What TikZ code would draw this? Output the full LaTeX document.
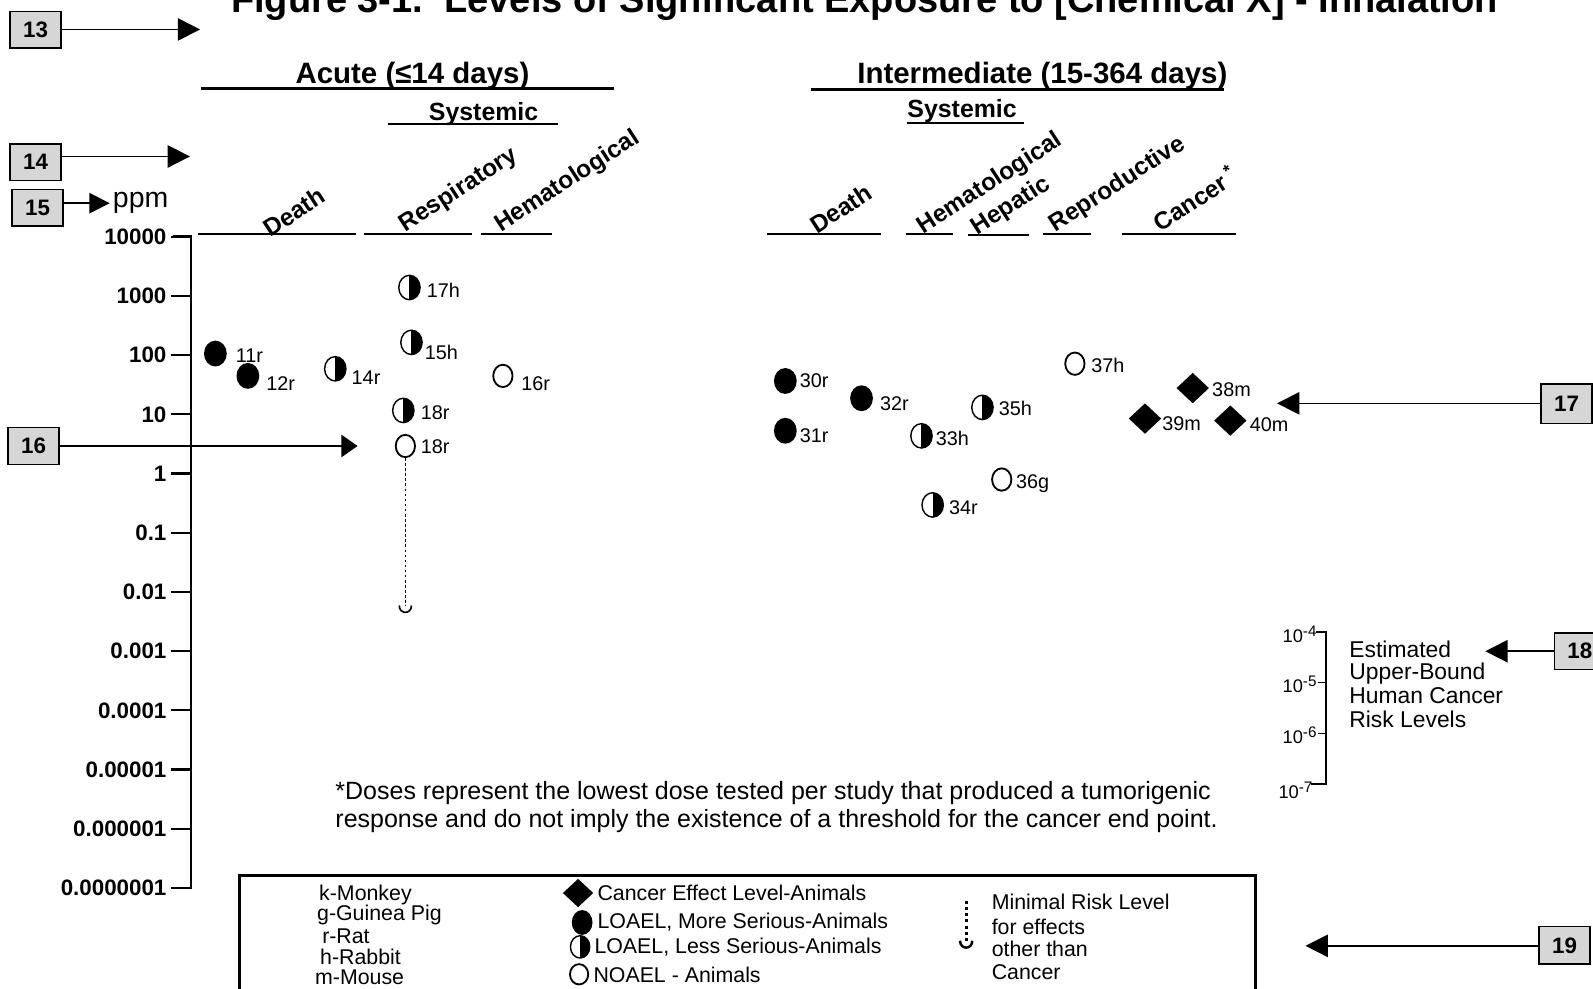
\documentclass[tikz,border=0pt]{standalone}
\usepackage{fontspec}
\setmainfont{Liberation Sans}
\usetikzlibrary{arrows.meta,shapes.geometric}
\newcommand{\fsz}[1]{\fontsize{#1pt}{#1pt}\selectfont}
\newcommand{\tenpow}[1]{10\raisebox{6pt}{\fsz{15}#1}}
\begin{document}
\begin{tikzpicture}[x=1pt,y=-1pt,
  numbox/.style={draw=black,line width=1.5pt,fill=black!16,minimum width=50pt,minimum height=36pt,inner sep=0pt,font=\fsz{22}\bfseries},
  callout/.style={line width=1.6pt,-{Triangle[length=22pt,width=22pt]}},
  hdr/.style={font=\fsz{29}\bfseries,inner sep=0pt,anchor=base},
  subhdr/.style={font=\fsz{24.5}\bfseries,inner sep=0pt,anchor=base},
  colhdr/.style={font=\fsz{24}\bfseries,inner sep=0pt,anchor=base west,rotate=33},
  ticklbl/.style={font=\fsz{22}\bfseries,inner sep=0pt,anchor=east},
  lbl/.style={font=\fsz{19.5},inner sep=0pt,anchor=west},
  leg/.style={font=\fsz{21},inner sep=0pt,anchor=west},
  risklbl/.style={font=\fsz{18},inner sep=0pt,anchor=east},
  mk/.style={ellipse,inner sep=0pt,minimum width=21pt,minimum height=24pt,line width=1.4pt,draw=black},
  fullmk/.style={mk,fill=black},
  halfmk/.style={mk,fill=white,path picture={\fill[black] (path picture bounding box.north) rectangle (path picture bounding box.south east);}},
  openmk/.style={mk,fill=white,line width=1.8pt,minimum width=19pt,minimum height=22pt},
  dia/.style={diamond,fill=black,inner sep=0pt,minimum width=32pt,minimum height=30pt},
  hline/.style={line width=1.8pt},
  thickline/.style={line width=3pt},
  mrl/.style={line width=1.6pt,dash pattern=on 2.5pt off 2.5pt},
]
\useasboundingbox (0,0) rectangle (1568,973);

% title
\node[font=\fsz{37.4}\bfseries,inner sep=0pt,anchor=base] (title) at (851,12) {Figure 3-1.\ \ Levels of Significant Exposure to [Chemical X] - Inhalation};

% headers
\node[hdr] (acute) at (406,82) {Acute (≤14 days)};
\draw[thickline] (198,87) -- (604,87);
\node[subhdr] (sysA) at (476,119) {Systemic};
\draw[hline] (382,122) -- (549,122);
\node[hdr] (inter) at (1026,82) {Intermediate (15-364 days)};
\draw[thickline] (798,88) -- (1205,88);
\node[subhdr] (sysI) at (947,116) {Systemic};
\draw[hline] (893,121) -- (1008,121);

% column headers
\draw[hline] (195,230) -- (350,230);
\draw[hline] (358,230) -- (465,230);
\draw[hline] (473,230) -- (543,230);
\node[colhdr] (cA1) at (266,234) {Death};
\node[colhdr] (cA2) at (399,229) {Respiratory};
\node[colhdr] (cA3) at (493,229) {Hematological};

\draw[hline] (755,230) -- (867,230);
\draw[hline] (892,230) -- (938,230);
\draw[hline] (953,231) -- (1013,231);
\draw[hline] (1027,230) -- (1074,230);
\draw[hline] (1104,230) -- (1217,230);
\node[colhdr] (cI1) at (804,231) {Death};
\node[colhdr] (cI2) at (909,231) {Hematological};
\node[colhdr] (cI3) at (962,232) {Hepatic};
\node[colhdr] (cI4) at (1039,229) {Reproductive};
\node[colhdr] (cI5) at (1142,229) {Cancer\,\textsuperscript{*}};

% y axis
\draw[line width=2.5pt] (170,233) -- (188,233) -- (188,874) -- (168,874);
\foreach \v [count=\i from 0] in {10000,1000,100,10,1,0.1,0.01,0.001,0.0001,0.00001,0.000001,0.0000001}{
  \draw[line width=2.2pt] (168,233+58.27*\i) -- (188,233+58.27*\i);
  \node[ticklbl] (t\i) at (164,233+58.27*\i) {\v};
}

% acute data
\node[fullmk] (m11) at (212,348) {};  \node[lbl] (l11) at (232,350) {11r};
\node[fullmk] (m12) at (244,370) {};  \node[lbl] (l12) at (262,378) {12r};
\node[halfmk] (m14) at (330,363) {};  \node[lbl] (l14) at (346,372) {14r};
\node[halfmk] (m17) at (403,283) {};  \node[lbl] (l17) at (420,286) {17h};
\node[halfmk] (m15) at (405,337) {};  \node[lbl] (l15) at (418,347) {15h};
\node[halfmk] (m18a) at (397,404) {}; \node[lbl] (l18a) at (414,406) {18r};
\node[openmk] (m18b) at (399,439) {}; \node[lbl] (l18b) at (414,440) {18r};
\node[openmk] (m16) at (495,370) {};  \node[lbl] (l16) at (513,378) {16r};
\coordinate (mrlEnd) at (399,596);
\draw[mrl] (m18b.south) -- (mrlEnd);
\draw[line width=1.6pt] ([xshift=-6pt]mrlEnd) .. controls ([xshift=-6pt,yshift=-9pt]mrlEnd) and ([xshift=6pt,yshift=-9pt]mrlEnd) .. ([xshift=6pt]mrlEnd);

% intermediate data
\node[fullmk] (m30) at (773,375) {};  \node[lbl] (l30) at (787,375) {30r};
\node[fullmk] (m31) at (773,424) {};  \node[lbl] (l31) at (787,429) {31r};
\node[fullmk] (m32) at (848,392) {};  \node[lbl] (l32) at (866,397) {32r};
\node[halfmk] (m33) at (907,429) {};  \node[lbl] (l33) at (921,432) {33h};
\node[halfmk] (m34) at (918,497) {};  \node[lbl] (l34) at (934,500) {34r};
\node[halfmk] (m35) at (967,401) {};  \node[lbl] (l35) at (983,402) {35h};
\node[openmk] (m36) at (986,472) {};  \node[lbl] (l36) at (1000,476) {36g};
\node[openmk] (m37) at (1058,358) {}; \node[lbl] (l37) at (1074,360) {37h};
\node[dia] (m38) at (1174,382) {};    \node[lbl] (l38) at (1193,384) {38m};
\node[dia] (m39) at (1127,412) {};    \node[lbl] (l39) at (1144,417) {39m};
\node[dia] (m40) at (1211,414) {};    \node[lbl] (l40) at (1230,418) {40m};

% cancer risk scale
\draw[line width=2pt] (1295,622) -- (1305,622) -- (1305,772) -- (1290,772);
\draw[line width=1pt] (1297,672) -- (1305,672);
\draw[line width=1pt] (1297,722) -- (1305,722);
\node[risklbl] (r4) at (1296,624) {\tenpow{-4}};
\node[risklbl] (r5) at (1296,674) {\tenpow{-5}};
\node[risklbl] (r6) at (1296,724) {\tenpow{-6}};
\node[risklbl] (r7) at (1292,778) {\tenpow{-7}};
\node[font=\fsz{22.5},inner sep=0pt,anchor=north west,align=left] (risk) at (1328,631) {Estimated\\[-1pt]Upper-Bound\\[1pt]Human Cancer\\[1pt]Risk Levels};

% footnote
\node[font=\fsz{24.6},inner sep=0pt,anchor=west] (fn1) at (330,781) {*Doses represent the lowest dose tested per study that produced a tumorigenic};
\node[font=\fsz{24.6},inner sep=0pt,anchor=west] (fn2) at (330,808) {response and do not imply the existence of a threshold for the cancer end point.};

% legend
\draw[line width=3pt] (236,1000) -- (236,862) -- (1236,862) -- (1236,1000);
\node[leg] (s1) at (314,881) {k-Monkey};
\node[leg] (s2) at (312,901) {g-Guinea Pig};
\node[leg] (s3) at (317,922) {r-Rat};
\node[leg] (s4) at (315,942) {h-Rabbit};
\node[leg] (s5) at (310,962) {m-Mouse};
\node[dia,minimum width=30pt,minimum height=28pt] (k1) at (569,879) {};
\node[leg] (k1t) at (588,879) {Cancer Effect Level-Animals};
\node[fullmk,minimum width=19pt,minimum height=23pt] (k2) at (573,908) {};
\node[leg] (k2t) at (588,908) {LOAEL, More Serious-Animals};
\node[halfmk,minimum width=19pt,minimum height=22pt] (k3) at (571,932) {};
\node[leg] (k3t) at (585,932) {LOAEL, Less Serious-Animals};
\node[openmk,minimum width=18pt,minimum height=20pt] (k4) at (570,959) {};
\node[leg] (k4t) at (584,960) {NOAEL - Animals};
\coordinate (kmTop) at (951,887);
\coordinate (kmEnd) at (951,926);
\draw[line width=3pt,dash pattern=on 3pt off 3pt] (kmTop) -- (kmEnd);
\draw[line width=2.4pt] ([xshift=-6pt]kmEnd) .. controls ([xshift=-6pt,yshift=-9pt]kmEnd) and ([xshift=6pt,yshift=-9pt]kmEnd) .. ([xshift=6pt]kmEnd);
\node[leg] (m1) at (976,888) {Minimal Risk Level};
\node[leg] (m2) at (976,912) {for effects};
\node[leg] (m3) at (976,934) {other than};
\node[leg] (m4) at (976,957) {Cancer};

% numbered callouts
\node[numbox] (b13) at (35,29.5) {13};
\coordinate (a13) at (197,29);
\draw[callout] (b13.east |- a13) -- (a13);
\node[numbox] (b14) at (35,159.5) {14};
\coordinate (a14) at (187,154);
\draw[callout] (b14.east |- a14) -- (a14);
\node[numbox] (b15) at (37,204.5) {15};
\coordinate (a15) at (108,200);
\draw[callout,-{Triangle[length=20pt,width=20pt]}] (b15.east |- a15) -- (a15);
\node[font=\fsz{28},inner sep=0pt,anchor=west] (ppm) at (111,200) {ppm};
\node[numbox] (b16) at (33,439) {16};
\coordinate (a16) at (352,439);
\draw[callout,-{Triangle[length=16pt,width=22pt]}] (b16.east |- a16) -- (a16);
\node[numbox,minimum height=39pt] (b17) at (1542,397.5) {17};
\coordinate (a17) at (1257,397);
\draw[callout] (b17.west |- a17) -- (a17);
\node[numbox] (b18) at (1555,641) {18};
\coordinate (a18) at (1462,641);
\draw[callout] (b18.west |- a18) -- (a18);
\node[numbox,minimum height=37pt] (b19) at (1540,930.5) {19};
\coordinate (a19) at (1285,931);
\draw[callout] (b19.west |- a19) -- (a19);
\end{tikzpicture}
\end{document}
